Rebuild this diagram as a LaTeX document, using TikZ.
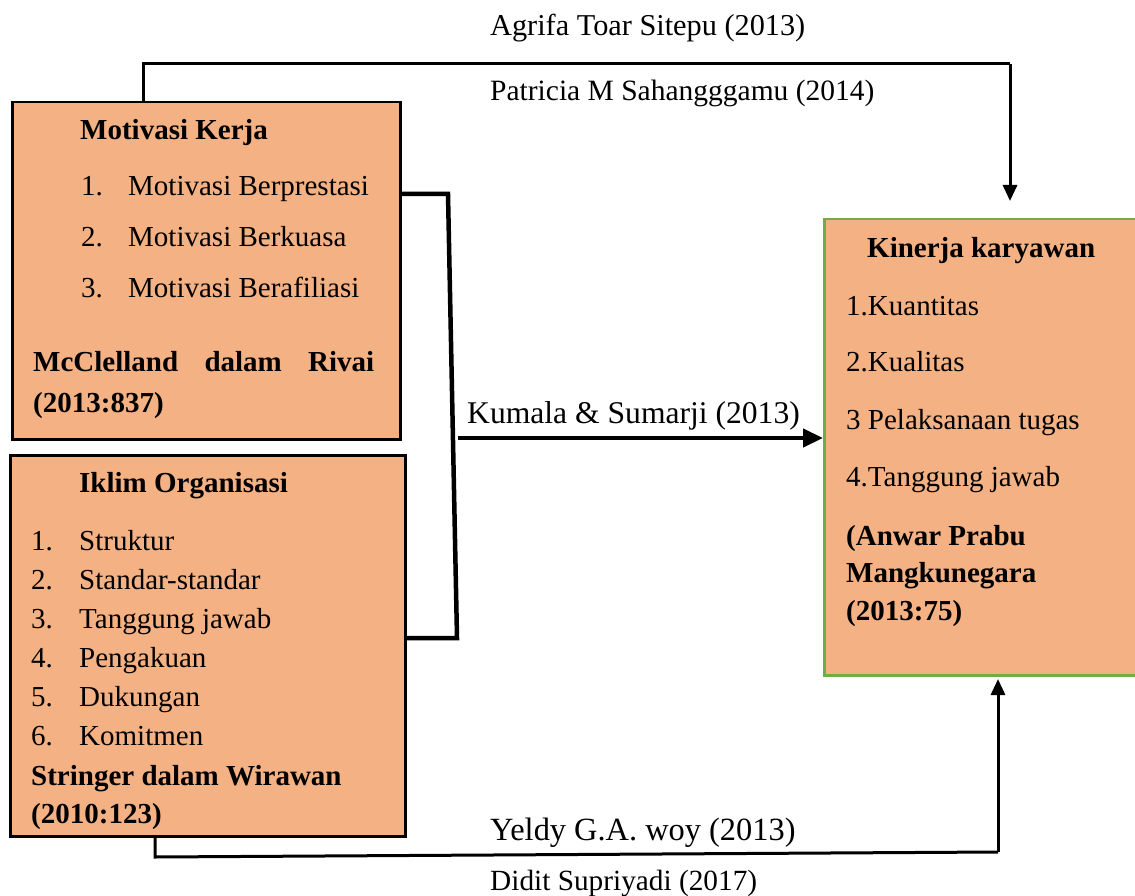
\documentclass[tikz,border=0pt]{standalone}
\usepackage{fontspec}
\setmainfont{Liberation Serif}
\usetikzlibrary{arrows.meta}
\definecolor{boxfill}{HTML}{F4B183}
\definecolor{boxgreen}{HTML}{70AD47}
\tikzset{
  box/.style={draw=black, line width=2.5pt, fill=boxfill, anchor=north west, inner sep=0pt},
  gbox/.style={draw=boxgreen, line width=2.5pt, fill=boxfill, anchor=north west, inner sep=0pt},
  txt/.style={inner sep=0pt, anchor=base west, font=\fontsize{29}{35}\selectfont},
  btxt/.style={txt, font=\fontsize{29}{35}\selectfont\bfseries},
  conn/.style={line width=3pt, line join=miter},
  brack/.style={line width=4.5pt, line join=miter},
  tip/.style={-{Triangle[length=16pt,width=14pt]}},
}
\begin{document}
\begin{tikzpicture}[x=1pt,y=-1pt]
\useasboundingbox (0,0) rectangle (1135,896);
% boxes
\node[box, minimum width=388pt, minimum height=337pt] (mk) at (11,101) {};
\node[box, minimum width=395pt, minimum height=381pt] (io) at (9,454) {};
\node[gbox, minimum width=330pt, minimum height=456pt] (kk) at (823,218) {};
% top box text
\node[btxt] (mkt) at (80,140) {Motivasi Kerja};
\node[txt] (mk1n) at (81,196) {1.};
\node[txt] (mk1) at (128,196) {Motivasi Berprestasi};
\node[txt] (mk2n) at (81,247) {2.};
\node[txt] (mk2) at (128,247) {Motivasi Berkuasa};
\node[txt] (mk3n) at (81,297) {3.};
\node[txt] (mk3) at (128,297) {Motivasi Berafiliasi};
\node[btxt] (mkr1) at (33,371) {\makebox[341pt][s]{McClelland dalam Rivai}};
\node[btxt] (mkr2) at (33,412) {(2013:837)};
% bottom box text
\node[btxt] (iot) at (79,492) {Iklim Organisasi};
\node[txt] (io1n) at (31,550) {1.};
\node[txt] (io1) at (79,550) {Struktur};
\node[txt] (io2n) at (31,589) {2.};
\node[txt] (io2) at (79,589) {Standar-standar};
\node[txt] (io3n) at (31,628) {3.};
\node[txt] (io3) at (79,628) {Tanggung jawab};
\node[txt] (io4n) at (31,667) {4.};
\node[txt] (io4) at (79,667) {Pengakuan};
\node[txt] (io5n) at (31,706) {5.};
\node[txt] (io5) at (79,706) {Dukungan};
\node[txt] (io6n) at (31,745) {6.};
\node[txt] (io6) at (79,745) {Komitmen};
\node[btxt] (ior1) at (31,785) {Stringer dalam Wirawan};
\node[btxt] (ior2) at (31,823) {(2010:123)};
% right box text
\node[btxt] (kkt) at (867,258) {Kinerja karyawan};
\node[txt] (kk1) at (846,315) {1.Kuantitas};
\node[txt] (kk2) at (846,371) {2.Kualitas};
\node[txt] (kk3) at (846,429) {3 Pelaksanaan tugas};
\node[txt] (kk4) at (846,486) {4.Tanggung jawab};
\node[btxt] (kkr1) at (846,545) {(Anwar Prabu};
\node[btxt] (kkr2) at (846,582) {Mangkunegara};
\node[btxt] (kkr3) at (846,620) {(2013:75)};
% connector labels
\node[txt, font=\fontsize{30.3}{36}\selectfont] (l1) at (490,36) {Agrifa Toar Sitepu (2013)};
\node[txt, font=\fontsize{29.5}{35}\selectfont] (l2) at (490,101) {Patricia M Sahangggamu (2014)};
\node[txt, font=\fontsize{31.6}{38}\selectfont] (l3) at (467,423) {Kumala \& Sumarji (2013)};
\node[txt, font=\fontsize{32.4}{38}\selectfont] (l4) at (490,840) {Yeldy G.A. woy (2013)};
\node[txt, font=\fontsize{29.3}{35}\selectfont] (l5) at (490,890) {Didit Supriyadi (2017)};
% coordinates
\coordinate (topL) at (143,64);
\coordinate (topR) at (1010,64);
\coordinate (topTip) at (1010,201);
\coordinate (brA) at (399,194);
\coordinate (brB) at (448,194);
\coordinate (brC) at (457,638);
\coordinate (bs) at (458,438);
\coordinate (botL) at (155,857);
\coordinate (botR) at (998,852);
\coordinate (botTip) at (998,679);
% connectors
\draw[conn] (mk.north west -| topL) -- (topL) -- (topR);
\draw[conn, tip] (topR) -- (topTip);
\draw[brack] (brA) -- (brB) -- (brC) -- (io.east |- brC);
\draw[brack, -{Triangle[length=20pt,width=18pt]}] (bs) -- (kk.west |- bs);
\draw[conn] (io.south west -| botL) -- (botL) -- (botR);
\draw[conn, tip] (botR) -- (botTip);
\end{tikzpicture}
\end{document}
